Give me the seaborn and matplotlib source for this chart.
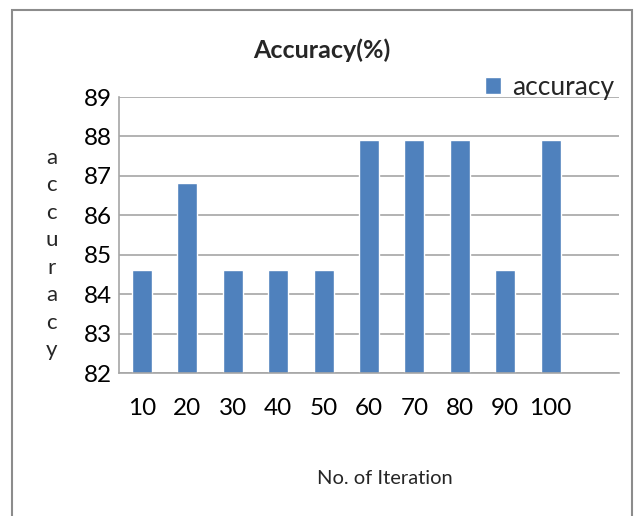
import pandas as pd
import matplotlib.pyplot as plt
import seaborn as sns
from matplotlib.patches import Rectangle

# -----------------------------
# Data
# -----------------------------
iterations = ["10", "20", "30", "40", "50", "60", "70", "80", "90", "100"]
accuracy = [84.61, 86.82, 84.61, 84.61, 84.61, 87.92, 87.92, 87.92, 84.61, 87.92]
y_ticks = [82, 83, 84, 85, 86, 87, 88, 89]

df = pd.DataFrame({"iteration": iterations, "accuracy": accuracy})

# -----------------------------
# Style
# -----------------------------
sns.set_style("white")
plt.rcParams["font.family"] = ["Lato", "DejaVu Sans"]

bar_color = "#4F81BD"
grid_color = "#A6A6A6"

fig = plt.figure(figsize=(6.4, 5.16), dpi=100)
ax = fig.add_axes([0.186, 0.277, 0.781, 0.535])

sns.barplot(data=df, x="iteration", y="accuracy", color=bar_color,
            width=0.44, ax=ax, label="accuracy", saturation=1)

ax.set_xlim(-0.5, 10.5)
ax.set_ylim(82, 89)
ax.set_yticks(y_ticks)
ax.yaxis.grid(True, color=grid_color, linewidth=1.2)
ax.set_axisbelow(True)

for side in ["top", "right"]:
    ax.spines[side].set_visible(False)
for side in ["left", "bottom"]:
    ax.spines[side].set_color(grid_color)
    ax.spines[side].set_linewidth(1.2)

ax.tick_params(axis="both", length=0, labelsize=17.5, colors="black")
ax.tick_params(axis="x", pad=18)
ax.tick_params(axis="y", pad=5)
ax.set_xlabel("")
ax.set_ylabel("")

# Title, x label, stacked y label
fig.text(0.503, 0.902, "Accuracy(%)", ha="center", va="center",
         fontsize=18, fontweight="bold")
fig.text(0.602, 0.073, "No. of Iteration", ha="center", va="center",
         fontsize=14.5)
fig.text(0.081, 0.508, "a\nc\nc\nu\nr\na\nc\ny", ha="center", va="center",
         fontsize=16, linespacing=1.47)

# Legend at top right
ax.legend(loc="lower right", bbox_to_anchor=(0.99, 0.99), frameon=False,
          fontsize=19, handlelength=0.6, handleheight=0.6,
          handletextpad=0.4, borderpad=0, borderaxespad=0)

# Border round the chart area
fig.patches.append(Rectangle((12 / 640, -0.05), 620 / 640, 1.05 - 10 / 516,
                             transform=fig.transFigure, fill=False,
                             edgecolor="#8C8C8C", linewidth=1.5))

plt.savefig("out.png", dpi=100)
plt.close()
